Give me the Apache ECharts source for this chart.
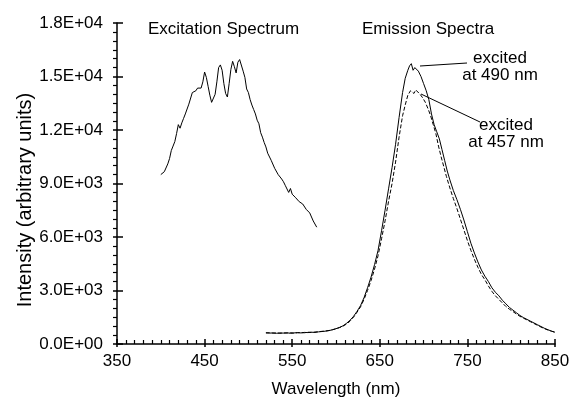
<!DOCTYPE html>
<html>
<head>
<meta charset="utf-8">
<script src="https://cdn.jsdelivr.net/npm/echarts@6/dist/echarts.min.js"></script>
<style>
html,body{margin:0;padding:0;background:#fff;}
#c{width:569px;height:398px;}
</style>
</head>
<body>
<div id="c"></div>
<script>
// Excitation spectrum (nm, intensity in units of 1000)
const excWl = [400,402,404,406,408,410,412,414,416,418,420,422,424,426,428,430,432,434,436,438,440,442,444,446,448,450,452,454,456,458,460,462,464,466,468,470,472,474,476,478,480,482,484,486,488,490,492,494,496,498,500,502,504,506,508,510,512,514,516,518,520,522,524,526,528,530,532,534,536,538,540,542,544,546,548,550,552,554,556,558,560,562,564,566,568,570,572,574,576,578];
const excVal = [9.50,9.42,9.66,9.70,10.10,10.40,10.85,11.10,11.35,11.80,12.30,12.10,12.40,12.65,12.90,12.90,13.45,13.50,14.10,14.15,14.20,14.35,14.25,14.35,14.70,15.25,14.95,14.45,13.95,13.55,13.60,14.00,14.70,15.50,15.65,15.35,14.60,14.05,13.85,14.60,15.40,15.85,15.55,15.20,15.80,15.95,15.85,15.30,14.95,14.30,14.10,13.70,13.40,13.15,12.90,12.55,12.35,11.85,11.60,11.30,11.05,10.70,10.65,10.30,10.25,9.85,9.80,9.50,9.45,9.25,9.10,8.90,8.85,8.50,8.72,8.40,8.40,8.20,8.25,7.98,8.00,7.85,7.80,7.55,7.55,7.35,7.30,6.90,6.80,6.55];

// Emission excited at 490 nm
const em490Wl = [520,524,528,532,536,540,544,548,552,556,560,564,568,572,576,580,584,588,592,596,600,604,608,612,616,620,624,628,632,636,640,644,648,652,656,660,664,668,672,676,679,682,684,686,688,690,692,694,697,700,703,706,709,712,715,718,721,724,727,730,734,738,742,746,750,754,758,762,766,770,774,778,782,786,790,794,798,802,806,810,814,818,822,826,830,834,838,842,846,850];
const em490Val = [0.63,0.61,0.62,0.60,0.62,0.61,0.63,0.60,0.62,0.64,0.62,0.65,0.64,0.66,0.65,0.68,0.70,0.72,0.75,0.80,0.86,0.93,1.02,1.16,1.33,1.55,1.83,2.15,2.6,3.15,3.75,4.45,5.25,6.35,7.5,8.7,9.9,11.2,12.7,14.1,14.9,15.35,15.6,15.72,15.35,15.5,15.6,15.3,15.0,14.6,14.2,13.7,12.9,12.3,11.9,11.5,10.9,10.3,9.7,9.2,8.6,8.1,7.55,6.95,6.3,5.65,5.1,4.6,4.15,3.8,3.5,3.15,2.9,2.7,2.45,2.25,2.05,1.9,1.75,1.6,1.48,1.38,1.28,1.18,1.08,0.98,0.88,0.8,0.72,0.66];

// Emission excited at 457 nm
const em457Wl = [520,524,528,532,536,540,544,548,552,556,560,564,568,572,576,580,584,588,592,596,600,604,608,612,616,620,624,628,632,636,640,644,648,652,656,660,664,668,672,676,679,682,685,687,689,691,693,696,699,702,705,708,711,714,717,720,723,726,730,734,738,742,746,750,754,758,762,766,770,774,778,782,786,790,794,798,802,806,810,814,818,822,826,830,834,838,842,846,850];
const em457Val = [0.62,0.63,0.61,0.62,0.60,0.62,0.61,0.63,0.61,0.63,0.64,0.63,0.66,0.65,0.67,0.69,0.71,0.73,0.76,0.80,0.85,0.92,1.00,1.12,1.28,1.50,1.78,2.08,2.5,3.0,3.55,4.2,4.95,5.9,6.9,8.0,9.0,10.2,11.6,12.8,13.4,13.95,14.2,14.3,14.05,14.25,14.15,14.0,13.8,13.55,13.2,12.8,12.3,11.8,11.1,10.5,9.95,9.4,8.75,8.15,7.6,7.0,6.4,5.8,5.25,4.75,4.3,3.9,3.6,3.25,2.95,2.7,2.5,2.3,2.1,1.95,1.82,1.68,1.55,1.45,1.35,1.25,1.15,1.05,0.95,0.86,0.78,0.72,0.66];

const yTickLabels = ['0.0E+00','3.0E+03','6.0E+03','9.0E+03','1.2E+04','1.5E+04','1.8E+04'];
const xTickLabels = ['350','450','550','650','750','850'];

const pairs = (wl, v) => wl.map((w, i) => [w, v[i] * 1000]);

const FONT = '"Liberation Sans", Arial, Helvetica, sans-serif';
const chart = echarts.init(document.getElementById('c'), null, {renderer: 'canvas'});
const axisLineStyle = {color: '#000', width: 1.5};

chart.setOption({
  animation: false,
  backgroundColor: '#fff',
  grid: {left: 117, right: 14, top: 23, bottom: 54, containLabel: false, outerBoundsMode: 'none'},
  xAxis: [{
    type: 'value', position: 'bottom', min: 350, max: 850, interval: 100,
    axisLine: {show: true, onZero: false, lineStyle: axisLineStyle},
    axisTick: {show: true, inside: true, length: 5, lineStyle: {color: '#000', width: 1.5}},
    minorTick: {show: true, splitNumber: 10, length: 4, lineStyle: {color: '#000', width: 1.2}},
    splitLine: {show: false},
    axisLabel: {
      color: '#000', fontSize: 17, fontFamily: FONT, margin: 9,
      formatter: v => xTickLabels[Math.round((v - 350) / 100)] || ''
    },
    name: 'Wavelength (nm)', nameLocation: 'middle', nameGap: 37,
    nameTextStyle: {color: '#000', fontSize: 17, fontFamily: FONT}
  }, {
    type: 'value', position: 'bottom', min: 350, max: 850, interval: 100,
    axisLine: {show: false, onZero: false},
    axisTick: {show: true, inside: false, length: 3, lineStyle: {color: '#000', width: 1.5}},
    axisLabel: {show: false}, splitLine: {show: false}
  }],
  yAxis: [{
    type: 'value', position: 'left', min: 0, max: 18000, interval: 3000,
    axisLine: {show: true, onZero: false, lineStyle: axisLineStyle},
    axisTick: {show: true, inside: false, length: 4, lineStyle: {color: '#000', width: 1.5}},
    minorTick: {show: true, splitNumber: 6, length: 4, lineStyle: {color: '#000', width: 1.2}},
    splitLine: {show: false},
    axisLabel: {
      color: '#000', fontSize: 17, fontFamily: FONT, margin: 14,
      formatter: v => yTickLabels[Math.round(v / 3000)] || ''
    }
  }, {
    type: 'value', position: 'left', min: 0, max: 18000, interval: 3000,
    axisLine: {show: false, onZero: false},
    axisTick: {show: true, inside: true, length: 6, lineStyle: {color: '#000', width: 1.5}},
    axisLabel: {show: false}, splitLine: {show: false}
  }],
  series: [{
    name: 'Excitation Spectrum', type: 'line', showSymbol: false, symbol: 'none',
    data: pairs(excWl, excVal),
    lineStyle: {color: '#000', width: 1}
  }, {
    name: 'excited at 490 nm', type: 'line', showSymbol: false, symbol: 'none',
    data: pairs(em490Wl, em490Val),
    lineStyle: {color: '#000', width: 1}
  }, {
    name: 'excited at 457 nm', type: 'line', showSymbol: false, symbol: 'none',
    data: pairs(em457Wl, em457Val),
    lineStyle: {color: '#000', width: 1, type: [4, 2]}
  }],
  graphic: [
    {type: 'text', x: 25, y: 200, rotation: Math.PI / 2, style: {text: 'Intensity (arbitrary units)', fill: '#000', font: '20px ' + FONT, align: 'center', verticalAlign: 'middle'}},
    {type: 'text', left: 148, top: 21, style: {text: 'Excitation Spectrum', fill: '#000', font: '17px ' + FONT}},
    {type: 'text', left: 362, top: 21, style: {text: 'Emission Spectra', fill: '#000', font: '17px ' + FONT}},
    {type: 'text', x: 500, y: 67, style: {text: 'excited\nat 490 nm', fill: '#000', font: '17px ' + FONT, align: 'center', verticalAlign: 'middle', lineHeight: 17}},
    {type: 'text', x: 506, y: 134, style: {text: 'excited\nat 457 nm', fill: '#000', font: '17px ' + FONT, align: 'center', verticalAlign: 'middle', lineHeight: 17}},
    {type: 'line', shape: {x1: 420, y1: 66, x2: 467, y2: 63}, style: {stroke: '#000', lineWidth: 1}},
    {type: 'line', shape: {x1: 421, y1: 94, x2: 480, y2: 122}, style: {stroke: '#000', lineWidth: 1}}
  ]
});
</script>
</body>
</html>
